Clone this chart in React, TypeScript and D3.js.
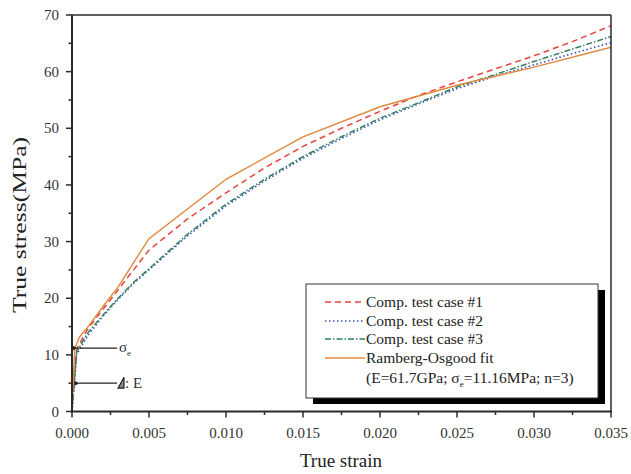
import React from "react";
import * as d3 from "d3";

const strainRO = [0, 0.00018, 0.0005, 0.001, 0.002, 0.003, 0.004, 0.005, 0.010, 0.015, 0.020, 0.025, 0.030, 0.035];
const stressRO = [0, 11.16, 13.2, 14.8, 18.5, 22.0, 26.3, 30.5, 41.0, 48.5, 53.8, 57.6, 60.8, 64.3];

const strainTest = [0, 0.0003, 0.001, 0.002, 0.003, 0.004, 0.005, 0.0075, 0.010, 0.0125, 0.015, 0.0175, 0.020, 0.0225, 0.025, 0.0275, 0.030, 0.0325, 0.035];
const stressCase1 = [0, 11.0, 14.5, 18.0, 21.5, 25.0, 28.5, 34.0, 38.6, 43.0, 46.8, 50.0, 53.0, 55.8, 58.2, 60.5, 62.8, 65.3, 68.1];
const stressCase2 = [0, 10.0, 13.3, 16.8, 19.8, 22.6, 25.0, 31.0, 36.3, 40.7, 44.7, 48.2, 51.5, 54.3, 57.0, 59.2, 61.2, 63.2, 65.1];
const stressCase3 = [0, 10.5, 13.8, 17.0, 20.0, 22.8, 25.2, 31.3, 36.6, 41.0, 45.0, 48.5, 51.8, 54.5, 57.3, 59.5, 61.8, 64.0, 66.2];

const xTicks = [0, 0.005, 0.01, 0.015, 0.02, 0.025, 0.03, 0.035];
const xMinor = [0.0025, 0.0075, 0.0125, 0.0175, 0.0225, 0.0275, 0.0325];
const yTicks = [0, 10, 20, 30, 40, 50, 60, 70];
const yMinor = [5, 15, 25, 35, 45, 55, 65];

const legendLabels = ["Comp. test case #1", "Comp. test case #2", "Comp. test case #3", "Ramberg-Osgood fit"];

const FONT = "'Liberation Serif', 'Times New Roman', serif";
const AX = "#2b2b2b";

export default function App() {
  const W = 631, H = 474;
  const x = d3.scaleLinear().domain([0, 0.035]).range([72, 611]);
  const y = d3.scaleLinear().domain([0, 70]).range([411.5, 15]);
  const line = d3.line<[number, number]>().x(d => x(d[0])).y(d => y(d[1]));
  const mk = (xs: number[], ys: number[]) => line(xs.map((v, i) => [v, ys[i]] as [number, number])) || "";

  const series = [
    { d: mk(strainTest, stressCase1), color: "#e5453d", dash: "6,4", w: 1.5 },
    { d: mk(strainTest, stressCase2), color: "#3d52b0", dash: "1.5,2.5", w: 1.6 },
    { d: mk(strainTest, stressCase3), color: "#2f7f5f", dash: "6,2,1.5,2", w: 1.5 },
    { d: mk(strainRO, stressRO), color: "#e0883d", dash: "", w: 1.4 },
  ];

  const lg = { x: 306, y: 284, w: 292, h: 114 };
  const rowY = [302, 321, 339, 358];

  return (
    <svg width={W} height={H} style={{ position: "absolute", left: 0, top: 0 }} fontFamily={FONT}>
      <rect width={W} height={H} fill="#fff" />
      {/* series */}
      {series.map((s, i) => (
        <path key={i} d={s.d} fill="none" stroke={s.color} strokeWidth={s.w} strokeDasharray={s.dash || undefined} />
      ))}
      {/* frame */}
      <line x1={x(0)} x2={x(0.035)} y1={y(70)} y2={y(70)} stroke={AX} strokeWidth={1.5} />
      <line x1={x(0.035)} x2={x(0.035)} y1={y(70)} y2={y(0)} stroke={AX} strokeWidth={1.5} />
      <line x1={x(0)} x2={x(0)} y1={y(70)} y2={y(0)} stroke={AX} strokeWidth={2} />
      <line x1={x(0) - 1} x2={x(0.035) + 1} y1={y(0)} y2={y(0)} stroke={AX} strokeWidth={2} />
      {/* x ticks */}
      {xTicks.map(t => (
        <g key={"xt" + t}>
          <line x1={x(t)} x2={x(t)} y1={y(0)} y2={y(0) + 6} stroke={AX} strokeWidth={1.5} />
          <text x={x(t)} y={438} textAnchor="middle" fontSize={15} fill="#333">{t.toFixed(3)}</text>
        </g>
      ))}
      {xMinor.map(t => (
        <line key={"xm" + t} x1={x(t)} x2={x(t)} y1={y(0)} y2={y(0) + 3.5} stroke={AX} strokeWidth={1.5} />
      ))}
      {/* y ticks */}
      {yTicks.map(t => (
        <g key={"yt" + t}>
          <line x1={x(0) - 6} x2={x(0)} y1={y(t)} y2={y(t)} stroke={AX} strokeWidth={1.5} />
          <text x={59} y={y(t) + 5} textAnchor="end" fontSize={15} fill="#333">{t}</text>
        </g>
      ))}
      {yMinor.map(t => (
        <line key={"ym" + t} x1={x(0) - 3.5} x2={x(0)} y1={y(t)} y2={y(t)} stroke={AX} strokeWidth={1.5} />
      ))}
      {/* axis titles */}
      <text x={341} y={467} textAnchor="middle" fontSize={19} fill="#222">True strain</text>
      <text transform={`translate(26,225) rotate(-90)`} textAnchor="middle" fontSize={19} fill="#222"
        textLength={176} lengthAdjust="spacingAndGlyphs">True stress(MPa)</text>
      {/* annotations */}
      <defs>
        <marker id="ah" viewBox="0 0 10 10" refX="1" refY="5" markerWidth="8" markerHeight="5" markerUnits="userSpaceOnUse" orient="auto">
          <path d="M10,0 L0,5 L10,10 Z" fill="#222" />
        </marker>
      </defs>
      <line x1={117} x2={77} y1={y(11.2)} y2={y(11.2)} stroke="#222" strokeWidth={1.2} markerEnd="url(#ah)" />
      <text x={119} y={y(11.2) + 4} fontSize={15} fill="#333">σ<tspan fontSize={9} dy={4}>e</tspan></text>
      <line x1={117} x2={79} y1={y(5)} y2={y(5)} stroke="#222" strokeWidth={1.2} markerEnd="url(#ah)" />
      <path d={`M118,${y(5) + 5} L124,${y(5) + 5} L124,${y(5) - 6} Z`} fill="#888" stroke="#222" strokeWidth={1.2} />
      <text x={125} y={y(5) + 5} fontSize={15} fill="#333">: E</text>
      {/* legend */}
      <rect x={lg.x + 7} y={lg.y + 6} width={lg.w} height={lg.h} fill="#000" />
      <rect x={lg.x} y={lg.y} width={lg.w} height={lg.h} fill="#fff" stroke="#333" strokeWidth={1} />
      {series.map((s, i) => (
        <g key={"lg" + i}>
          <line x1={325} x2={365} y1={rowY[i]} y2={rowY[i]} stroke={s.color} strokeWidth={s.w} strokeDasharray={s.dash || undefined} />
          <text x={366} y={rowY[i] + 5} fontSize={15.5} fill="#222">{legendLabels[i]}</text>
        </g>
      ))}
      <text x={366} y={383} fontSize={15.5} fill="#222">(E=61.7GPa; σ<tspan fontSize={9} dy={4}>e</tspan><tspan dy={-4}>=11.16MPa; n=3)</tspan></text>
    </svg>
  );
}
